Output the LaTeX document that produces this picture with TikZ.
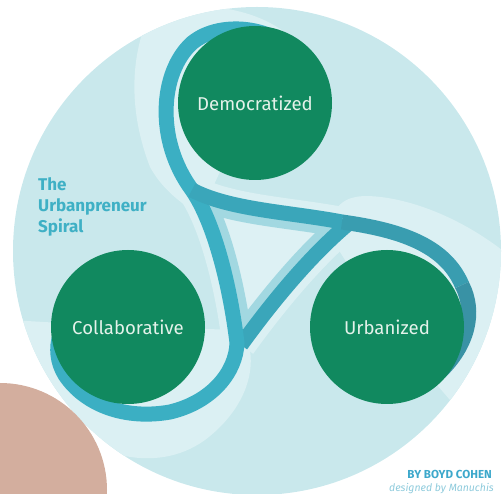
\documentclass[tikz,border=0pt]{standalone}
\usepackage{fontspec}
\setmainfont{Fira Sans}
\definecolor{bgc}{HTML}{C9E8EC}
\definecolor{haloc}{HTML}{DBF0F3}
\definecolor{inner}{HTML}{DDF1F4}
\definecolor{stripc}{HTML}{A2D8E1}
\definecolor{rib}{HTML}{3BAFC3}
\definecolor{ribmid}{HTML}{3AA6BA}
\definecolor{ribmid2}{HTML}{399DB0}
\definecolor{ribdark}{HTML}{3992A5}
\definecolor{grn}{HTML}{11895F}
\definecolor{lbl}{HTML}{E4F2EA}
\definecolor{titlec}{HTML}{3FB0C5}
\definecolor{byc}{HTML}{3DA8CB}
\definecolor{desc}{HTML}{8FCBDC}
\definecolor{brown}{HTML}{D3AE9E}
\tikzset{
  bubble/.style={circle, fill=grn, minimum size=154pt, inner sep=0pt, text=lbl,
                 font=\fontsize{18.6}{22}\selectfont},
  band/.style={line width=15pt, draw=rib},
  halo/.style={fill=haloc},
}
\begin{document}
\begin{tikzpicture}[x=1pt,y=-1pt]
\useasboundingbox (0,0) rectangle (504,494);
\fill[bgc] (257,251) circle (244);
\coordinate (TL) at (192,190);
\coordinate (R) at (342,222);
\coordinate (R2) at (348,224);
\coordinate (B) at (237,343);
\coordinate (B2) at (241,345);
\coordinate (Dtip) at (298,60);
\coordinate (Ctip) at (60,335);
\coordinate (Utip) at (440,372);
\coordinate (Umid) at (462,285);
% halos
\begin{scope}
\clip (257,251) circle (244);
\path[halo] (310,60) .. controls (285,20) and (240,5) .. (180,5) -- (145,25)
   .. controls (132,60) and (128,110) .. (150,167) .. controls (160,185) and (175,200) .. (200,215)
   -- (230,150) -- (300,90) -- cycle;
\path[halo] (330,236) .. controls (330,205) and (345,196) .. (367,196)
   .. controls (410,197) and (470,220) .. (520,265) -- (520,420) -- (450,400) -- (387,327) -- cycle;
\path[halo] (10,320) -- (128,327) -- (243,330) .. controls (262,365) and (245,410) .. (205,440)
   .. controls (180,458) and (150,462) .. (120,455) .. controls (80,440) and (45,410) .. (10,370) -- cycle;
\draw[haloc, line width=30pt] (TL) .. controls (214,222) and (230,285) .. (B);
\draw[haloc, line width=30pt] (TL) .. controls (230,210) and (290,212) .. (R);
\draw[haloc, line width=30pt] (R2) .. controls (310,256) and (272,302) .. (B2);
\end{scope}
% inner triangle
\path[fill=inner] (TL) .. controls (230,210) and (290,212) .. (R) -- (R2) .. controls (310,256) and (272,302) .. (B2) -- (B) .. controls (230,285) and (214,222) .. (TL) -- cycle;
\begin{scope}
\clip (TL) .. controls (230,210) and (290,212) .. (R) -- (R2) .. controls (310,256) and (272,302) .. (B2) -- (B) .. controls (230,285) and (214,222) .. (TL) -- cycle;
\draw[stripc, line width=31pt] (TL) .. controls (230,210) and (290,212) .. (R);
\draw[stripc, line width=31pt] (R2) .. controls (310,256) and (272,302) .. (B2);
\draw[stripc, line width=31pt] (TL) .. controls (214,222) and (230,285) .. (B);
\end{scope}
% ribbons
\draw[band, draw=ribmid] (R2) .. controls (310,256) and (272,302) .. (B2);
\draw[band] (Dtip) .. controls (282,28) and (222,18) .. (192,43) .. controls (160,72) and (155,140) .. (TL)
   .. controls (214,222) and (230,285) .. (B)
   .. controls (236,372) and (212,402) .. (170,412) .. controls (125,420) and (85,405) .. (65,375)
   .. controls (57,362) and (56,348) .. (Ctip);
\draw[band, draw=ribmid] (TL) .. controls (230,210) and (290,212) .. (R);
\draw[band, draw=ribmid2] (R) .. controls (400,230) and (445,245) .. (Umid);
\draw[band, draw=ribdark] (Umid) .. controls (476,312) and (468,345) .. (Utip);
% circles
\node[bubble] (dem) at (255,103) {Democratized};
\node[bubble] (col) at (128,327) {Collaborative};
\node[bubble] (urb) at (387,327) {Urbanized};
% brown disc
\fill[brown] (0,490) circle (107);
% texts
\node[anchor=west, align=left, text=titlec, inner sep=0pt,
      font=\fontsize{17}{21}\selectfont\bfseries] (title) at (38,207) {The\\Urbanpreneur\\Spiral};
\node[anchor=east, inner sep=0pt, text=byc, font=\fontsize{11.6}{13}\selectfont\bfseries] (by) at (492,474) {BY BOYD COHEN};
\node[anchor=east, inner sep=0pt, text=desc, font=\fontsize{10.5}{12}\selectfont\itshape] (des) at (494,489) {designed by Manuchis};
\end{tikzpicture}
\end{document}
